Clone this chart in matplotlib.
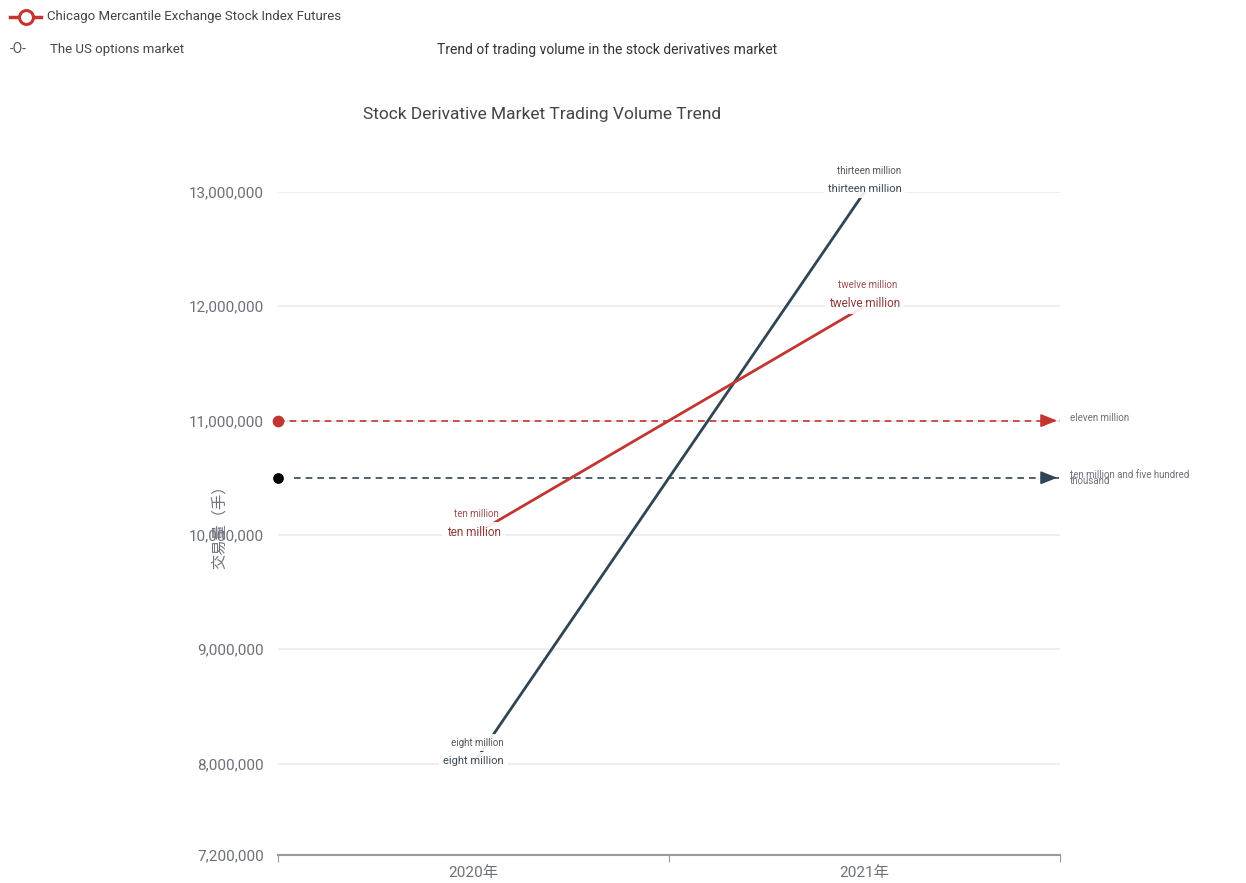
import matplotlib.pyplot as plt
from matplotlib.lines import Line2D

plt.rcParams['font.family'] = ['Roboto', 'Noto Sans CJK SC', 'DejaVu Sans']

# Data
years = ['2020年', '2021年']
cme_futures = [10000000, 12000000]
us_options = [8000000, 13000000]
cme_labels = ['ten million', 'twelve million']
us_labels = ['eight million', 'thirteen million']
cme_avg = 11000000
us_avg = 10500000
cme_avg_label = 'eleven million'
us_avg_label = 'ten million and five hundred\nthousand'
y_ticks = [7200000, 8000000, 9000000, 10000000, 11000000, 12000000, 13000000]

red = '#c23531'
dark = '#2f4554'
grey = '#6e7079'

fig = plt.figure(figsize=(12.46, 8.83), dpi=100)
ax = fig.add_axes([0.2231, 0.0317, 0.6276, 0.7509])

x = [0.5, 1.5]
ax.set_xlim(0, 2)
ax.set_ylim(7200000, 13000000)

# grid lines
for v in y_ticks[1:]:
    ax.axhline(v, color='#ebebeb', lw=1.2, zorder=0)

# series lines
ax.plot(x, us_options, color=dark, lw=2, zorder=2, clip_on=False)
ax.plot(x, cme_futures, color=red, lw=2, zorder=2, clip_on=False)

# mark lines (average)
ax.plot([0, 2], [cme_avg, cme_avg], color=red, lw=1.2, ls=(0, (4, 3)), zorder=1)
ax.plot([0.04, 2], [us_avg, us_avg], color=dark, lw=1.2, ls=(0, (4, 3)), zorder=1)
ax.scatter([0], [cme_avg], s=55, color=red, zorder=3, clip_on=False)
ax.scatter([0], [us_avg], s=45, color='black', zorder=3, clip_on=False)
for v, c in [(cme_avg, red), (us_avg, dark)]:
    ax.annotate('', xy=(2.0, v), xytext=(1.95, v),
                arrowprops=dict(arrowstyle='-|>,head_length=1.0,head_width=0.4',
                                color=c, lw=1.2), annotation_clip=False)
ax.annotate(cme_avg_label, xy=(2, cme_avg), xytext=(7, 2), textcoords='offset points',
            fontsize=7, color=grey, va='center', annotation_clip=False)
ax.annotate(us_avg_label, xy=(2, us_avg), xytext=(7, 0), textcoords='offset points',
            fontsize=7, color=grey, va='center', linespacing=0.5, annotation_clip=False)

# point labels (doubled as in the reference)
box = dict(boxstyle='square,pad=0.35', fc='white', ec='none', alpha=0.9)
for xi, v, lab in zip(x, cme_futures, cme_labels):
    ax.annotate(lab, xy=(xi, v), xytext=(0, 2), textcoords='offset points',
                fontsize=8.5, color='#8b3a3a', ha='center', va='center', zorder=4, bbox=box)
    ax.annotate(lab, xy=(xi, v), xytext=(2, 15), textcoords='offset points',
                fontsize=7, color='#9a5050', ha='center', va='center', zorder=4)
for xi, v, lab in zip(x, us_options, us_labels):
    ax.annotate(lab, xy=(xi, v), xytext=(0, 2), textcoords='offset points',
                fontsize=8, color='#3a4a56', ha='center', va='center', zorder=4, bbox=box)
    ax.annotate(lab, xy=(xi, v), xytext=(3, 15), textcoords='offset points',
                fontsize=7, color='#555', ha='center', va='center', zorder=4, bbox=box)

# axes styling
for s in ['top', 'right', 'left']:
    ax.spines[s].set_visible(False)
ax.spines['bottom'].set_color('#9a9a9a')
ax.spines['bottom'].set_linewidth(1.5)
ax.set_yticks(y_ticks)
ax.set_yticklabels([f'{v:,}' for v in y_ticks])
ax.tick_params(axis='y', length=0, pad=10, labelsize=11, labelcolor=grey)
ax.set_xticks([0, 1, 2])
ax.set_xticklabels([])
ax.set_xticks(x, minor=True)
ax.set_xticklabels(years, minor=True)
ax.tick_params(axis='x', which='major', length=5, color='#9a9a9a')
ax.tick_params(axis='x', which='minor', length=0, pad=8, labelsize=11, labelcolor=grey)
ax.set_ylabel('交易量（手）', fontsize=11, color=grey, labelpad=-28,
              family=['Noto Sans CJK SC', 'DejaVu Sans'])

# titles
fig.text(0.487, 0.943, 'Trend of trading volume in the stock derivatives market',
         fontsize=10, color='#333', ha='center', va='center')
fig.text(0.291, 0.870, 'Stock Derivative Market Trading Volume Trend',
         fontsize=12.5, color='#444', ha='left', va='center')

# legend
fig.add_artist(Line2D([0.008, 0.033], [0.981, 0.981], color=red, lw=2.5,
                      transform=fig.transFigure))
fig.add_artist(Line2D([0.0205], [0.981], color=red, marker='o', markersize=10,
                      markerfacecolor='white', markeredgewidth=2.2,
                      transform=fig.transFigure))
fig.text(0.038, 0.981, 'Chicago Mercantile Exchange Stock Index Futures',
         fontsize=9.5, color='#444', va='center')
fig.text(0.008, 0.944, '-O-', fontsize=10, color='#555', va='center')
fig.text(0.040, 0.944, 'The US options market', fontsize=9.5, color='#444', va='center')

fig.savefig('out.png', dpi=100)
